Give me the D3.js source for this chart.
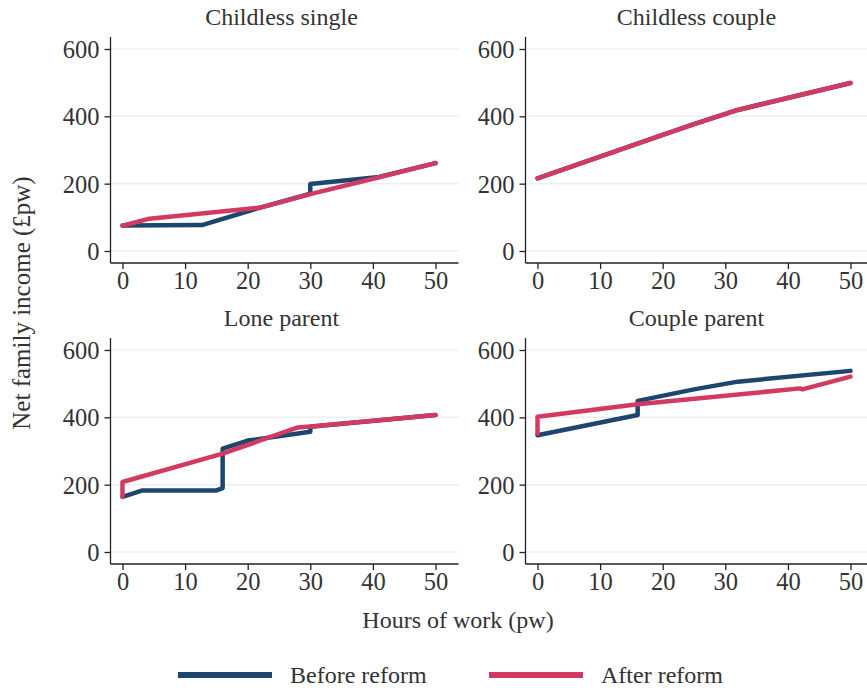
<!DOCTYPE html>
<html>
<head>
<meta charset="utf-8">
<script src="https://cdn.jsdelivr.net/npm/d3@7"></script>
<style>
  body { margin: 0; background: #fff; }
</style>
</head>
<body>
<div id="vis"></div>
<script>
const width = 867;
const height = 688;
const fontFamily = "'Liberation Serif', 'DejaVu Serif', serif";

// [hours, net income £pw]
const singleBefore = [[0, 76], [12.7, 77], [22, 129], [30, 170], [30, 199], [41, 220], [50, 261]];
const singleAfter = [[0, 75], [4.3, 96], [22, 129], [30, 169], [41, 219], [50, 261]];
const coupleBefore = [[0, 216], [20, 345], [25, 377], [32, 419], [50, 499]];
const coupleAfter = [[0, 216], [20, 345], [25, 377], [32, 419], [50, 499]];
const loneBefore = [[0, 164], [3.2, 183], [15, 183], [16, 190], [16, 307], [20, 331], [30, 357], [30, 372], [50, 407]];
const loneAfter = [[0, 164], [0, 208], [16, 292], [28, 370], [30, 373], [50, 407]];
const parentBefore = [[0, 347], [16, 407], [16, 449], [25, 483], [32, 506], [50, 538]];
const parentAfter = [[0, 352], [0, 402], [16, 439], [42, 486], [42.3, 483], [50, 521]];

const panelTitles = ["Childless single", "Childless couple", "Lone parent", "Couple parent"];
const seriesNames = ["Before reform", "After reform"];
const xTicks = [0, 10, 20, 30, 40, 50];
const yTicks = [0, 200, 400, 600];

const colors = ["#1c466e", "#d23a62"];

const panels = [
  { title: panelTitles[0], left: 110.5, top: 37, series: [singleBefore, singleAfter] },
  { title: panelTitles[1], left: 525.5, top: 37, series: [coupleBefore, coupleAfter] },
  { title: panelTitles[2], left: 110.5, top: 338, series: [loneBefore, loneAfter] },
  { title: panelTitles[3], left: 525.5, top: 338, series: [parentBefore, parentAfter] }
];

const pw = 348, ph = 226;

const svg = d3.select("#vis")
  .append("svg")
  .attr("width", width)
  .attr("height", height);

const x = d3.scaleLinear().domain([0, 50]).range([12, 325]);
const y = d3.scaleLinear().domain([0, 600]).range([214, 12]);

panels.forEach(p => {
  const g = svg.append("g").attr("transform", `translate(${p.left},${p.top})`);

  // gridlines
  g.selectAll(".grid")
    .data(yTicks)
    .enter()
    .append("line")
    .attr("x1", 0)
    .attr("x2", pw)
    .attr("y1", d => y(d))
    .attr("y2", d => y(d))
    .attr("stroke", "#eaf0f2")
    .attr("stroke-width", 1.5);

  const line = d3.line()
    .x(d => x(d[0]))
    .y(d => y(d[1]));

  p.series.forEach((s, i) => {
    g.append("path")
      .datum(s)
      .attr("fill", "none")
      .attr("stroke", colors[i])
      .attr("stroke-width", 4.5)
      .attr("stroke-linejoin", "round")
      .attr("stroke-linecap", "round")
      .attr("d", line);
  });

  const yAxis = g.append("g")
    .call(d3.axisLeft(y).tickValues(yTicks).tickSize(6).tickSizeOuter(0).tickPadding(5));
  yAxis.attr("font-family", null);
  yAxis.select(".domain").remove();
  yAxis.selectAll("line").attr("stroke", "#222").attr("stroke-width", 1.3);
  yAxis.selectAll("text")
    .style("font-family", fontFamily)
    .style("font-size", "24.5px")
    .attr("fill", "#333")
    .attr("dy", "0.34em");

  const xAxis = g.append("g")
    .attr("transform", `translate(0,${ph})`)
    .call(d3.axisBottom(x).tickValues(xTicks).tickSize(6).tickSizeOuter(0).tickPadding(3));
  xAxis.attr("font-family", null);
  xAxis.select(".domain").remove();
  xAxis.selectAll("line").attr("stroke", "#222").attr("stroke-width", 1.3);
  xAxis.selectAll("text")
    .style("font-family", fontFamily)
    .style("font-size", "24.5px")
    .attr("fill", "#333");

  g.append("line")
    .attr("x1", 0).attr("x2", 0)
    .attr("y1", 0).attr("y2", ph)
    .attr("stroke", "#222").attr("stroke-width", 1.3);
  g.append("line")
    .attr("x1", 0).attr("x2", pw)
    .attr("y1", ph).attr("y2", ph)
    .attr("stroke", "#222").attr("stroke-width", 1.3);

  g.append("text")
    .attr("x", pw / 2 - 3)
    .attr("y", -12)
    .attr("text-anchor", "middle")
    .style("font-family", fontFamily)
    .style("font-size", "24px")
    .attr("fill", "#333")
    .text(p.title);
});

svg.append("text")
  .attr("x", 458)
  .attr("y", 628)
  .attr("text-anchor", "middle")
  .style("font-family", fontFamily)
  .style("font-size", "24px")
  .attr("fill", "#333")
  .text("Hours of work (pw)");

svg.append("text")
  .attr("transform", "translate(30,303) rotate(-90)")
  .attr("text-anchor", "middle")
  .style("font-family", fontFamily)
  .style("font-size", "25px")
  .attr("fill", "#333")
  .text("Net family income (£pw)");

const legendX = [178, 489];
seriesNames.forEach((name, i) => {
  svg.append("line")
    .attr("x1", legendX[i])
    .attr("x2", legendX[i] + 94)
    .attr("y1", 675)
    .attr("y2", 675)
    .attr("stroke", colors[i])
    .attr("stroke-width", 6);
  svg.append("text")
    .attr("x", legendX[i] + 112)
    .attr("y", 683)
    .style("font-family", fontFamily)
    .style("font-size", "24px")
    .attr("fill", "#333")
    .text(name);
});
</script>
</body>
</html>
